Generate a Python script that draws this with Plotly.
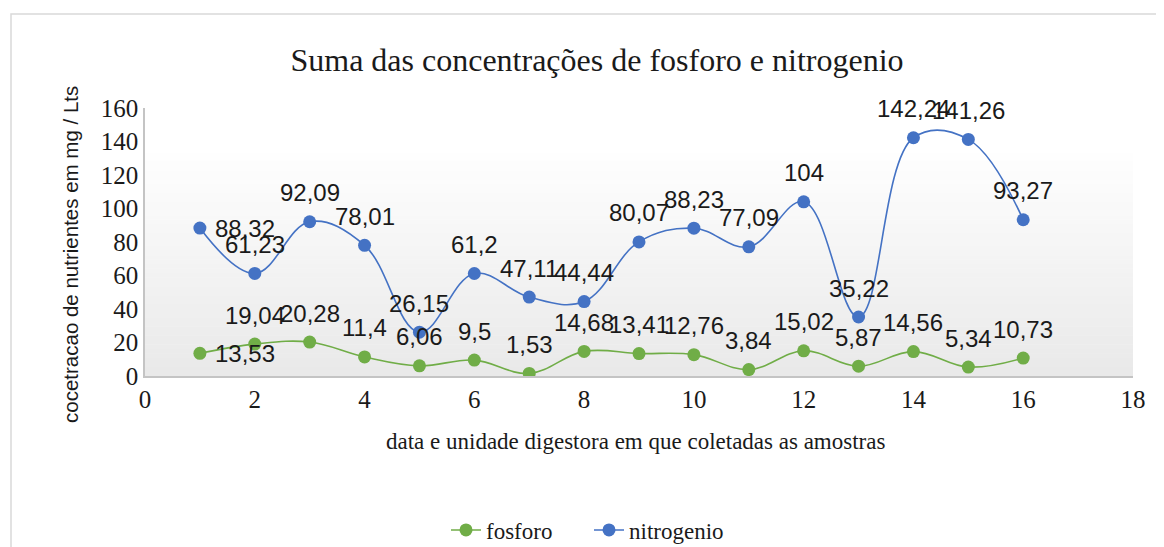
import plotly.graph_objects as go

amostras = list(range(1, 17))
fosforo = [13.53, 19.04, 20.28, 11.4, 6.06, 9.5, 1.53, 14.68, 13.41, 12.76, 3.84, 15.02, 5.87, 14.56, 5.34, 10.73]
nitrogenio = [88.32, 61.23, 92.09, 78.01, 26.15, 61.2, 47.11, 44.44, 80.07, 88.23, 77.09, 104, 35.22, 142.24, 141.26, 93.27]

x_ticks = list(range(0, 19, 2))
y_ticks = list(range(0, 161, 20))

GREEN = "#70AD47"
BLUE = "#4472C4"

OFF = 8  # page body margin
W, H = 1164 - OFF, 547 - OFF
L = 145 - OFF
T = 108 - OFF
R = W - (1133 - OFF)
B = H - (376 - OFF)
PW, PH = W - L - R, H - T - B


def px_x(p):
    return (p - OFF - L) / PW


def px_y(p):
    return (H - B - (p - OFF)) / PH


def fmt(v):
    return f"{v:g}".replace(".", ",")


SERIF = "Liberation Serif, Times New Roman, serif"
SANS = "Liberation Sans, Arial, sans-serif"

fig = go.Figure()
for name, vals, col in [("fosforo", fosforo, GREEN), ("nitrogenio", nitrogenio, BLUE)]:
    fig.add_trace(go.Scatter(
        x=amostras, y=vals, name=name, mode="lines+markers",
        line=dict(color=col, width=1.6, shape="spline", smoothing=1.1),
        marker=dict(color=col, size=13),
    ))

annotations = []
for vals in (fosforo, nitrogenio):
    for i, (xv, yv) in enumerate(zip(amostras, vals)):
        if i == 0:
            annotations.append(dict(x=xv, y=yv, xref="x", yref="y", text=fmt(yv), showarrow=False,
                                    xanchor="left", yanchor="middle", xshift=13,
                                    font=dict(family=SANS, size=24, color="#1a1a1a")))
        else:
            annotations.append(dict(x=xv, y=yv, xref="x", yref="y", text=fmt(yv), showarrow=False,
                                    xanchor="center", yanchor="middle", yshift=29,
                                    font=dict(family=SANS, size=24, color="#1a1a1a")))

annotations.append(dict(text="data e unidade digestora em que coletadas as amostras",
                        x=px_x(635), y=px_y(441), xref="paper", yref="paper", showarrow=False,
                        xanchor="center", yanchor="middle",
                        font=dict(family=SERIF, size=23, color="#1a1a1a")))
annotations.append(dict(text="cocetracao de nutrientes em mg / Lts",
                        x=px_x(70), y=px_y(255), xref="paper", yref="paper", showarrow=False,
                        xanchor="center", yanchor="middle", textangle=-90,
                        font=dict(family=SANS, size=20.5, color="#1a1a1a")))

shapes = []
N = 60
for i in range(N):
    f = i / N  # 0 at bottom
    t = max(0.0, min(1.0, (1 - f - 0.15) / 0.85))
    g = int(round(255 - (255 - 233) * t))
    shapes.append(dict(type="rect", xref="paper", yref="paper", x0=0, x1=1,
                       y0=i / N, y1=(i + 1) / N + 0.002, fillcolor=f"rgb({g},{g},{g})",
                       line=dict(width=0), layer="below"))
shapes.append(dict(type="rect", xref="paper", yref="paper",
                   x0=px_x(11), x1=px_x(1190), y0=px_y(14), y1=px_y(570),
                   line=dict(color="#d9d9d9", width=1.5), fillcolor="rgba(0,0,0,0)", layer="below"))

fig.update_layout(
    width=W, height=H,
    margin=dict(l=L, r=R, t=T, b=B, autoexpand=False),
    paper_bgcolor="white", plot_bgcolor="white",
    title=dict(text="Suma das concentrações de fosforo e nitrogenio",
               x=px_x(597), xref="paper", xanchor="center",
               y=1 - (60 - OFF) / H, yref="container", yanchor="middle",
               font=dict(family=SERIF, size=32, color="#1a1a1a")),
    xaxis=dict(range=[0, 18], tickvals=x_ticks, showgrid=False, zeroline=False,
               showline=True, linecolor="#c4c4c4", linewidth=2, ticks="",
               tickfont=dict(family=SERIF, size=25, color="#1a1a1a")),
    yaxis=dict(range=[0, 160], tickvals=y_ticks, showgrid=False, zeroline=False,
               showline=True, linecolor="#c4c4c4", linewidth=1.5, ticks="",
               tickfont=dict(family=SERIF, size=25, color="#1a1a1a")),
    legend=dict(orientation="h", x=px_x(446), xanchor="left", y=px_y(530), yanchor="middle",
                entrywidth=98, entrywidthmode="pixels",
                font=dict(family=SERIF, size=23, color="#1a1a1a"),
                bgcolor="rgba(0,0,0,0)"),
    annotations=annotations,
    shapes=shapes,
    showlegend=True,
)

fig.write_html("out.html")
